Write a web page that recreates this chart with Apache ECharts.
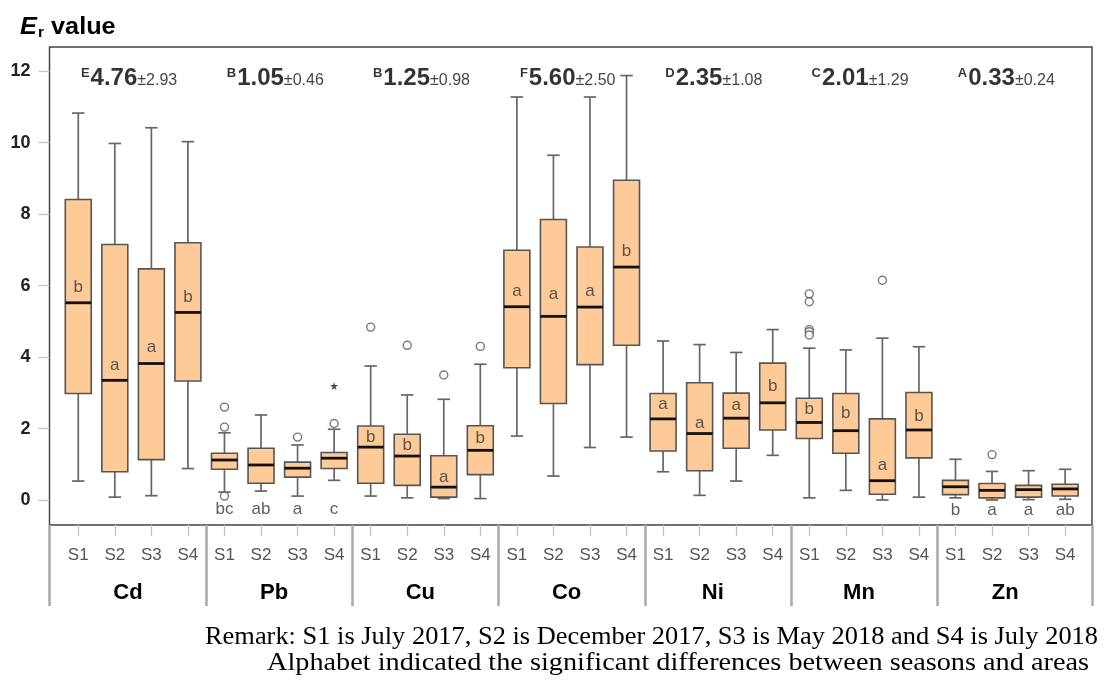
<!DOCTYPE html>
<html><head><meta charset="utf-8">
<script src="https://cdn.jsdelivr.net/npm/echarts@6/dist/echarts.min.js"></script>
<style>html,body{margin:0;padding:0;background:#fff}#c{width:1109px;height:680px}</style>
</head><body><div id="c"></div>
<script>
// ---- data ----
const metals = ['Cd', 'Pb', 'Cu', 'Co', 'Ni', 'Mn', 'Zn'];
const seasons = ['S1', 'S2', 'S3', 'S4'];
const yTicks = [0, 2, 4, 6, 8, 10, 12];
// each season: [lower whisker, Q1, median, Q3, upper whisker]
const Cd = [[0.53, 2.98, 5.52, 8.41, 10.83], [0.08, 0.79, 3.35, 7.15, 9.98], [0.12, 1.13, 3.82, 6.47, 10.42], [0.88, 3.33, 5.25, 7.20, 10.03]];
const Pb = [[0.22, 0.86, 1.12, 1.31, 1.88], [0.25, 0.47, 0.98, 1.45, 2.38], [0.11, 0.64, 0.89, 1.06, 1.54], [0.55, 0.88, 1.17, 1.33, 1.98]];
const Cu = [[0.11, 0.47, 1.48, 2.07, 3.75], [0.06, 0.41, 1.23, 1.84, 2.94], [0.04, 0.08, 0.36, 1.24, 2.82], [0.04, 0.71, 1.39, 2.08, 3.80]];
const Co = [[1.79, 3.70, 5.41, 6.99, 11.28], [0.67, 2.70, 5.14, 7.85, 9.65], [1.47, 3.79, 5.40, 7.08, 11.28], [1.76, 4.33, 6.52, 8.95, 11.88]];
const Ni = [[0.79, 1.37, 2.27, 2.98, 4.45], [0.13, 0.82, 1.86, 3.28, 4.35], [0.53, 1.45, 2.29, 2.99, 4.13], [1.25, 1.96, 2.72, 3.83, 4.77]];
const Mn = [[0.06, 1.72, 2.17, 2.85, 4.25], [0.27, 1.31, 1.94, 2.98, 4.20], [0.00, 0.16, 0.54, 2.27, 4.53], [0.08, 1.18, 1.96, 3.01, 4.29]];
const Zn = [[0.06, 0.15, 0.37, 0.55, 1.14], [0.00, 0.06, 0.27, 0.46, 0.80], [0.01, 0.08, 0.29, 0.41, 0.82], [0.02, 0.11, 0.31, 0.44, 0.86]];
// outliers: [metal, season, value]
const outlierCircles = [
  ['Pb', 'S1', 2.60], ['Pb', 'S1', 2.04], ['Pb', 'S1', 0.11], ['Pb', 'S3', 1.76], ['Pb', 'S4', 2.14],
  ['Cu', 'S1', 4.84], ['Cu', 'S2', 4.33], ['Cu', 'S3', 3.50], ['Cu', 'S4', 4.30],
  ['Mn', 'S1', 5.77], ['Mn', 'S1', 5.55], ['Mn', 'S1', 4.77], ['Mn', 'S1', 4.71], ['Mn', 'S1', 4.62],
  ['Mn', 'S3', 6.15], ['Zn', 'S2', 1.27]
];
const outlierStars = [['Pb', 'S4', 3.19]];
// significance letters per season: [letter, y position]
const CdLetters = [['b', 5.96], ['a', 3.77], ['a', 4.28], ['b', 5.68]];
const PbLetters = [['bc', -0.26], ['ab', -0.26], ['a', -0.26], ['c', -0.26]];
const CuLetters = [['b', 1.76], ['b', 1.54], ['a', 0.64], ['b', 1.73]];
const CoLetters = [['a', 5.85], ['a', 5.75], ['a', 5.85], ['b', 6.95]];
const NiLetters = [['a', 2.68], ['a', 2.16], ['a', 2.66], ['b', 3.19]];
const MnLetters = [['b', 2.54], ['b', 2.44], ['a', 0.97], ['b', 2.33]];
const ZnLetters = [['b', -0.28], ['a', -0.28], ['a', -0.28], ['ab', -0.28]];
// group summary (mean ± SD with group letter)
const groupLetter = ['E', 'B', 'B', 'F', 'D', 'C', 'A'];
const groupMean = ['4.76', '1.05', '1.25', '5.60', '2.35', '2.01', '0.33'];
const groupSd = ['2.93', '0.46', '0.98', '2.50', '1.08', '1.29', '0.24'];
const remark1 = 'Remark: S1 is July 2017, S2 is December 2017, S3 is May 2018 and S4 is July 2018';
const remark2 = 'Alphabet indicated the significant differences between seasons and areas';

// ---- build ----
const boxSets = [Cd, Pb, Cu, Co, Ni, Mn, Zn];
const letterSets = [CdLetters, PbLetters, CuLetters, CoLetters, NiLetters, MnLetters, ZnLetters];
const idx = (m, s) => metals.indexOf(m) * 4 + seasons.indexOf(s);
const boxData = [];
boxSets.forEach((set, g) => set.forEach((b, s) => boxData.push([g * 4 + s].concat(b))));
const letterData = [];
letterSets.forEach((set, g) => set.forEach((l, s) => letterData.push({value: [g * 4 + s, l[1]], name: l[0]})));
const circleData = outlierCircles.map(o => [idx(o[0], o[1]), o[2]]);
const starData = outlierStars.map(o => [idx(o[0], o[1]), o[2]]);
const headData = metals.map((m, g) => ({value: [g * 4 + 1.5 - 0.11, 11.8], name: g}));

const XMIN = -0.787, XMAX = 27.735;
const catTicks = boxData.map(d => d[0]);
const sepTicks = [XMIN, 3.5, 7.5, 11.5, 15.5, 19.5, 23.5, XMAX];
const groupCenters = metals.map((m, g) => g * 4 + 1.5 - 0.14);
const FONT = '"Liberation Sans", Arial, sans-serif';
const SERIF = '"Liberation Serif", "Times New Roman", serif';

// fit remark lines to their width in the picture
const ctx = document.createElement('canvas').getContext('2d');
ctx.font = '25px ' + SERIF;
const w1 = ctx.measureText(remark1).width, w2 = ctx.measureText(remark2).width;

function renderBox(params, api) {
  const x = api.value(0);
  const pLo = api.coord([x, api.value(1)]);
  const pQ1 = api.coord([x, api.value(2)]);
  const pMd = api.coord([x, api.value(3)]);
  const pQ3 = api.coord([x, api.value(4)]);
  const pHi = api.coord([x, api.value(5)]);
  const unit = api.size([1, 0])[0];
  const bw = unit * 0.71, cw = unit * 0.34, cx = pLo[0];
  const wStyle = {stroke: '#666666', lineWidth: 1.7};
  return {type: 'group', children: [
    {type: 'line', shape: {x1: cx, y1: pHi[1], x2: cx, y2: pQ3[1]}, style: wStyle},
    {type: 'line', shape: {x1: cx, y1: pQ1[1], x2: cx, y2: pLo[1]}, style: wStyle},
    {type: 'line', shape: {x1: cx - cw / 2, y1: pHi[1], x2: cx + cw / 2, y2: pHi[1]}, style: wStyle},
    {type: 'line', shape: {x1: cx - cw / 2, y1: pLo[1], x2: cx + cw / 2, y2: pLo[1]}, style: wStyle},
    {type: 'rect', shape: {x: cx - bw / 2, y: pQ3[1], width: bw, height: pQ1[1] - pQ3[1]},
      style: {fill: '#FECB98', stroke: '#555555', lineWidth: 1.6}},
    {type: 'line', shape: {x1: cx - bw / 2, y1: pMd[1], x2: cx + bw / 2, y2: pMd[1]},
      style: {stroke: '#111111', lineWidth: 2.8}}
  ]};
}

const chart = echarts.init(document.getElementById('c'), null, {renderer: 'canvas'});
chart.setOption({
  animation: false,
  backgroundColor: '#ffffff',
  grid: {left: 49.5, right: 17, top: 47, bottom: 155, show: true, borderColor: '#444', borderWidth: 1.5, backgroundColor: 'transparent'},
  xAxis: [{
    type: 'value', min: XMIN, max: XMAX, position: 'bottom',
    axisLine: {show: false, onZero: false}, splitLine: {show: false},
    axisTick: {show: true, customValues: catTicks, length: 11, lineStyle: {color: '#c4c4c4', width: 1.3}},
    axisLabel: {customValues: catTicks, formatter: v => seasons[Math.round(v) % 4], color: '#555', fontSize: 17, fontFamily: FONT, margin: 22}
  }, {
    type: 'value', min: XMIN, max: XMAX, position: 'bottom', offset: 0,
    axisLine: {show: false, onZero: false}, splitLine: {show: false},
    axisTick: {show: true, customValues: sepTicks, length: 81, lineStyle: {color: '#a9a9a9', width: 2.5}},
    axisLabel: {customValues: groupCenters, formatter: v => metals[Math.round((v - 1.36) / 4)], color: '#000', fontSize: 22, fontWeight: 'bold', fontFamily: FONT, margin: 57}
  }],
  yAxis: {
    type: 'value', min: -0.7, max: 12.68,
    axisLine: {show: false, onZero: false}, splitLine: {show: false},
    axisTick: {show: true, customValues: yTicks, length: 11, lineStyle: {color: '#c4c4c4', width: 1.3}},
    axisLabel: {customValues: yTicks, color: '#222', fontSize: 18, fontWeight: 'bold', fontFamily: FONT, margin: 19}
  },
  series: [{
    type: 'custom', xAxisIndex: 0, renderItem: renderBox, data: boxData,
    encode: {x: 0, y: [1, 2, 3, 4, 5]}, z: 2
  }, {
    type: 'scatter', xAxisIndex: 0, data: circleData, symbol: 'circle', symbolSize: 8,
    itemStyle: {color: '#fff', borderColor: '#555', borderWidth: 1.4}, z: 3
  }, {
    type: 'scatter', xAxisIndex: 0, data: starData, symbol: 'path://M0,-1L0.2245,-0.309L0.951,-0.309L0.363,0.118L0.588,0.809L0,0.382L-0.588,0.809L-0.363,0.118L-0.951,-0.309L-0.2245,-0.309Z',
    symbolSize: 8, itemStyle: {color: '#222'}, z: 3
  }, {
    type: 'scatter', xAxisIndex: 0, data: letterData, symbolSize: 1, itemStyle: {color: 'rgba(0,0,0,0)'},
    label: {show: true, position: 'inside', formatter: p => p.name, color: '#333', fontSize: 17, fontFamily: FONT}, z: 4
  }, {
    type: 'scatter', xAxisIndex: 0, data: headData, symbolSize: 1, itemStyle: {color: 'rgba(0,0,0,0)'},
    label: {show: true, position: 'inside',
      formatter: p => '{s|' + groupLetter[p.name] + '}{m|' + groupMean[p.name] + '}{d|±' + groupSd[p.name] + '}',
      rich: {
        s: {fontFamily: FONT, fontSize: 13, fontWeight: 'bold', color: '#000', verticalAlign: 'top', padding: [0, 1, 10, 0]},
        m: {fontFamily: FONT, fontSize: 24, fontWeight: 'bold', color: '#000'},
        d: {fontFamily: FONT, fontSize: 16, color: '#111', padding: [5, 0, 0, 0]}
      }}, z: 4
  }],
  graphic: [
    {type: 'text', x: 20, y: 28, scaleX: 1.1, originX: 0,
      style: {text: '{e|E}{r|r}{v| value}', x: 0, y: 0, textVerticalAlign: 'middle', rich: {
        e: {fontFamily: FONT, fontSize: 23, fontWeight: 'bold', fontStyle: 'italic', fill: '#000', padding: [0, 1, 0, 0]},
        r: {fontFamily: FONT, fontSize: 14, fontWeight: 'bold', fill: '#000', verticalAlign: 'bottom', padding: [10, 0, 0, 0]},
        v: {fontFamily: FONT, fontSize: 23, fontWeight: 'bold', fill: '#000'}
      }}},
    {type: 'text', x: 205, y: 637, scaleX: (1098 - 205) / w1, originX: 0,
      style: {text: remark1, x: 0, y: 0, font: '25px ' + SERIF, fill: '#000', textVerticalAlign: 'middle'}},
    {type: 'text', x: 267, y: 663, scaleX: (1089 - 267) / w2, originX: 0,
      style: {text: remark2, x: 0, y: 0, font: '25px ' + SERIF, fill: '#000', textVerticalAlign: 'middle'}}
  ]
});
</script>
</body></html>
